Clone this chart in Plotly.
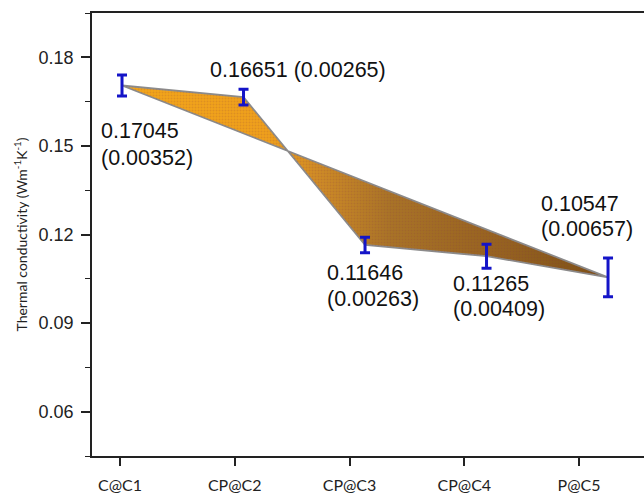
import plotly.graph_objects as go

# Thermal conductivity of each sample, with its standard deviation
samples = ["C@C1", "CP@C2", "CP@C3", "CP@C4", "P@C5"]
conductivity = [0.17045, 0.16651, 0.11646, 0.11265, 0.10547]
std_dev = [0.00352, 0.00265, 0.00263, 0.00409, 0.00657]
y_ticks = [0.06, 0.09, 0.12, 0.15, 0.18]

idx = list(range(len(samples)))

fig = go.Figure()

# Invisible carrier so the category axis is laid out and drawn
fig.add_trace(go.Scatter(
    x=idx, y=conductivity, xaxis="x", yaxis="y",
    mode="markers", marker=dict(size=1, opacity=0),
    hoverinfo="skip", showlegend=False,
))

# Ribbon between the measured curve and the straight first-to-last chord
ring_x = idx + [idx[0]]
ring_y = conductivity + [conductivity[0]]
fig.add_trace(go.Scatter(
    x=ring_x, y=ring_y, xaxis="x2", yaxis="y",
    mode="lines", fill="toself",
    line=dict(color="#8c8c8c", width=1.8),
    fillgradient=dict(
        type="horizontal",
        colorscale=[
            [0.0, "#f4a719"],
            [0.30, "#f0a11b"],
            [0.40, "#d08c26"],
            [0.55, "#aa7427"],
            [0.80, "#94611f"],
            [1.0, "#7c5015"],
        ],
    ),
    hoverinfo="skip", showlegend=False,
))

# Fine stipple texture over the ribbon surface
fig.add_trace(go.Scatter(
    x=ring_x, y=ring_y, xaxis="x2", yaxis="y",
    mode="none", fill="toself", fillcolor="rgba(0,0,0,0)",
    fillpattern=dict(shape=".", fgcolor="rgba(130,50,70,0.35)",
                     bgcolor="rgba(0,0,0,0)", size=3, solidity=0.35),
    hoverinfo="skip", showlegend=False,
))

# Error bars
fig.add_trace(go.Scatter(
    x=idx, y=conductivity, xaxis="x2", yaxis="y",
    mode="markers",
    marker=dict(size=1, color="rgba(0,0,0,0)"),
    error_y=dict(type="data", array=std_dev, visible=True,
                 color="#1414c8", thickness=3, width=5),
    hoverinfo="skip", showlegend=False,
))

# Value (std) labels next to each point
label_font = dict(family="Liberation Sans, Arial, sans-serif", size=21.5, color="#111111")
offsets = [  # (xshift, line-1 yshift, line-2 yshift or None)
    (-23, -45, -72),
    (-36, 27, None),
    (-40, -28, -54),
    (-36, -28, -53),
    (-69, 73, 48),
]
for i, (v, e) in enumerate(zip(conductivity, std_dev)):
    dx, dy1, dy2 = offsets[i]
    if dy2 is None:
        texts = [(f"{v:.5f} ({e:.5f})", dy1)]
    else:
        texts = [(f"{v:.5f}", dy1), (f"({e:.5f})", dy2)]
    for t, dy in texts:
        fig.add_annotation(
            x=i, y=v, xref="x2", yref="y", text=t, showarrow=False,
            xanchor="left", yanchor="middle", xshift=dx, yshift=dy,
            font=label_font,
        )

fig.update_layout(
    width=644, height=494,
    margin=dict(l=92, r=0, t=13, b=35),
    paper_bgcolor="white", plot_bgcolor="white",
    xaxis=dict(
        range=[-0.244, 4.566],
        tickmode="array", tickvals=idx, ticktext=samples,
        showgrid=False, zeroline=False,
        showline=True, linecolor="#222222", linewidth=1.6, mirror=True,
        ticks="outside", ticklen=8, tickwidth=1.6, tickcolor="#222222",
        tickfont=dict(family="Lato, sans-serif", size=16, color="#222222"),
        ticklabelstandoff=6,
    ),
    xaxis2=dict(
        range=[-0.247, 4.296], overlaying="x", visible=False,
    ),
    yaxis=dict(
        range=[0.045, 0.195],
        tickmode="array", tickvals=y_ticks,
        ticktext=[f"{t:.2f}" for t in y_ticks],
        showgrid=False, zeroline=False,
        showline=True, linecolor="#222222", linewidth=1.6,
        ticks="outside", ticklen=9, tickwidth=1.6, tickcolor="#222222",
        minor=dict(tickmode="linear", tick0=0.045, dtick=0.015,
                   ticks="outside", ticklen=5, tickwidth=1.4, tickcolor="#222222"),
        tickfont=dict(family="Liberation Sans, Arial, sans-serif", size=18, color="#222222"),
        ticklabelstandoff=4,
        title=dict(
            text="Thermal conductivity (Wm<sup>-1</sup>K<sup>-1</sup>)",
            font=dict(family="Lato, sans-serif", size=14, color="#222222"),
            standoff=8,
        ),
    ),
)

fig.write_html("out.html")
